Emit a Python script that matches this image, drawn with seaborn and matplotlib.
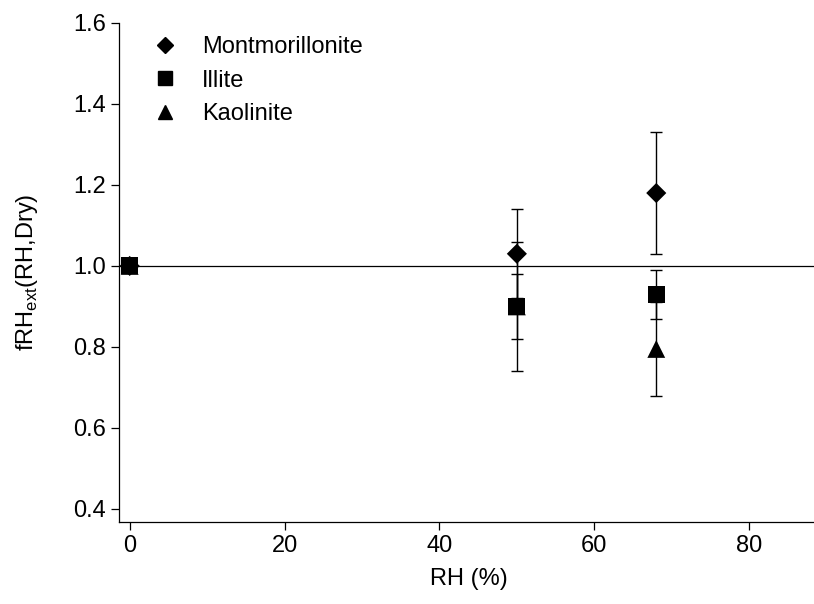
import pandas as pd
import matplotlib.pyplot as plt
from matplotlib.lines import Line2D
import seaborn as sns
import numpy as np

sns.set_style('ticks')
plt.rcParams['font.family'] = ['Liberation Sans', 'DejaVu Sans']
plt.rcParams['text.color'] = 'black'
plt.rcParams['axes.labelcolor'] = 'black'
plt.rcParams['xtick.color'] = 'black'
plt.rcParams['ytick.color'] = 'black'

minerals = ['Montmorillonite', 'Illite', 'Kaolinite']
rh = [0, 50, 68]
mont_f = [1.00, 1.03, 1.18]
mont_err = [0.0, 0.11, 0.15]
illite_f = [1.00, 0.90, 0.93]
illite_err = [0.0, 0.16, 0.06]
kaol_f = [1.00, 0.90, 0.795]
kaol_err = [0.0, 0.08, 0.115]

df = pd.concat([
    pd.DataFrame({'RH': rh, 'f': mont_f, 'err': mont_err, 'mineral': 'Montmorillonite'}),
    pd.DataFrame({'RH': rh, 'f': illite_f, 'err': illite_err, 'mineral': 'Illite'}),
    pd.DataFrame({'RH': rh, 'f': kaol_f, 'err': kaol_err, 'mineral': 'Kaolinite'}),
], ignore_index=True)

marker_map = {'Montmorillonite': 'D', 'Illite': 's', 'Kaolinite': '^'}

fig = plt.figure(figsize=(8.14, 6.04), dpi=100)
ax = fig.add_axes([0.146, 0.136, 0.86, 0.826])

ax.axhline(1.0, color='black', lw=0.9, zorder=1)

for m in minerals:
    d = df[(df.mineral == m) & (df.err > 0)]
    ax.errorbar(d.RH, d.f, yerr=d.err, fmt='none', ecolor='black',
                elinewidth=1.0, capsize=4.5, capthick=1.0, zorder=2)

sns.scatterplot(data=df, x='RH', y='f', hue='mineral', style='mineral', size='mineral',
                hue_order=minerals, style_order=minerals, size_order=minerals,
                palette={m: 'black' for m in minerals},
                markers=marker_map,
                sizes={'Montmorillonite': 105, 'Illite': 150, 'Kaolinite': 165},
                edgecolor='black', linewidth=0, ax=ax, zorder=3, legend=False)

ax.set_xlim(-1.4, 89)
ax.set_ylim(0.368, 1.6)
ax.set_xticks([0, 20, 40, 60, 80])
ax.set_yticks([0.4, 0.6, 0.8, 1.0, 1.2, 1.4, 1.6])
ax.yaxis.set_major_formatter(plt.FormatStrFormatter('%.1f'))
ax.tick_params(labelsize=17, width=0.9, length=6, color='black')
for sp in ['top', 'right']:
    ax.spines[sp].set_visible(False)
for sp in ['left', 'bottom']:
    ax.spines[sp].set_linewidth(0.9)
    ax.spines[sp].set_color('black')

ax.set_xlabel('RH (%)', fontsize=17)
ax.set_ylabel('fRH$_{\\mathregular{ext}}$(RH,Dry)', fontsize=17)
ax.yaxis.set_label_coords(-0.113, 0.5)
ax.xaxis.set_label_coords(0.5, -0.092)

leg_sizes = {'Montmorillonite': 7.8, 'Illite': 10.5, 'Kaolinite': 10.5}
handles = [Line2D([], [], ls='none', marker=marker_map[m], color='black',
                  markersize=leg_sizes[m]) for m in minerals]
ax.legend(handles, minerals, loc='upper left', bbox_to_anchor=(0.035, 0.992),
          frameon=False, fontsize=17, handlelength=1.0, handletextpad=1.1,
          labelspacing=0.48, borderaxespad=0)

plt.savefig('out.png', dpi=100)
